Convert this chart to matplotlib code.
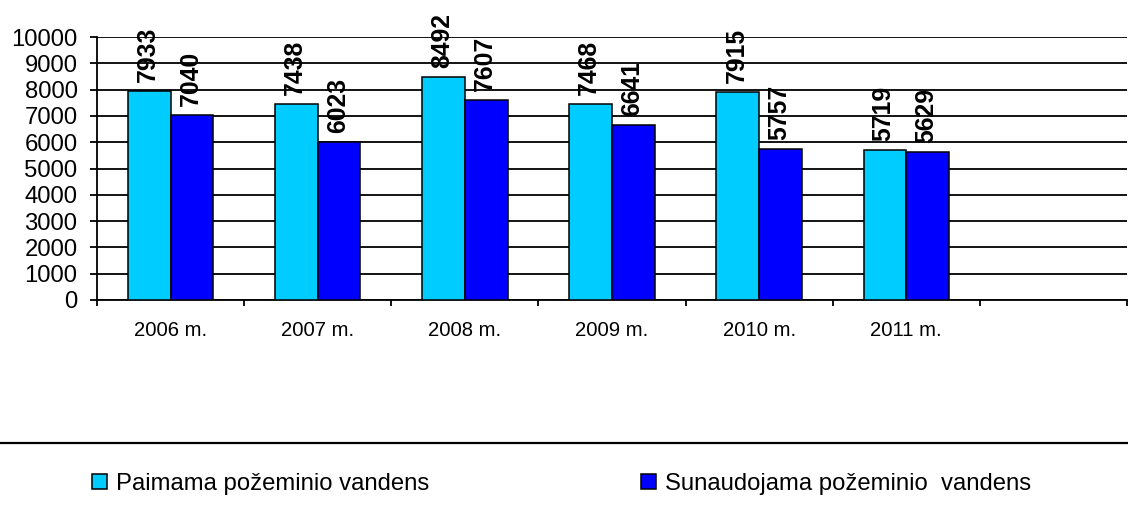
import matplotlib
matplotlib.use("Agg")
import matplotlib.pyplot as plt
import numpy as np
from matplotlib.lines import Line2D

plt.rcParams['font.family'] = ['Liberation Sans', 'DejaVu Sans']

years = ["2006 m.", "2007 m.", "2008 m.", "2009 m.", "2010 m.", "2011 m."]
paimama = [7933, 7438, 8492, 7468, 7915, 5719]
sunaudojama = [7040, 6023, 7607, 6641, 5757, 5629]
series_names = ["Paimama požeminio vandens", "Sunaudojama požeminio  vandens"]
n_slots = 7  # one empty slot on the right

W, H = 1128, 519
fig = plt.figure(figsize=(W / 100, H / 100), dpi=100)
ax = fig.add_axes([97 / W, (H - 300) / H, (1127 - 97) / W, (300 - 37) / H])

x = np.arange(len(years)) + 0.5
bw = 0.29
b1 = ax.bar(x - bw / 2, paimama, bw, color="#00CCFF", edgecolor="black", linewidth=1.1, zorder=3)
b2 = ax.bar(x + bw / 2, sunaudojama, bw, color="#0000FF", edgecolor="black", linewidth=1.1, zorder=3)

for bars in (b1, b2):
    for r in bars:
        ax.annotate(f"{int(r.get_height())}", (r.get_x() + r.get_width() / 2, r.get_height()),
                    xytext=(-1, 6.5), textcoords="offset points", rotation=90,
                    ha="center", va="bottom", fontsize=17.8, fontweight="bold", zorder=4)

ax.set_xlim(0, n_slots)
ax.set_ylim(0, 10000)
ax.set_yticks(np.arange(0, 10001, 1000))
ax.yaxis.grid(True, color="black", linewidth=1.3)
ax.set_axisbelow(True)
ax.tick_params(axis="y", direction="out", length=5, width=1.3, pad=9, labelsize=17.2)

ax.set_xticks(np.arange(0, n_slots + 1))
ax.set_xticklabels([])
ax.set_xticks(x, minor=True)
ax.set_xticklabels(years, minor=True, fontsize=14.6)
ax.tick_params(axis="x", which="major", direction="out", length=4.3, width=1.3)
ax.tick_params(axis="x", which="minor", length=0, pad=15)

for s in ("top", "right"):
    ax.spines[s].set_visible(False)
ax.spines["left"].set_linewidth(1.3)
ax.spines["bottom"].set_linewidth(1.3)

# line above the legend
fig.add_artist(Line2D([0, 1], [(H - 443) / H] * 2, color="black", linewidth=1.6,
                      transform=fig.transFigure))

legend_kw = dict(frameon=False, fontsize=17.2, handlelength=0.62, handleheight=0.62,
                 handletextpad=0.38, borderpad=0, borderaxespad=0, loc="center left")
fig.legend([b1], [series_names[0]], bbox_to_anchor=(92 / W, (H - 484) / H), **legend_kw)
fig.legend([b2], [series_names[1]], bbox_to_anchor=(641 / W, (H - 484) / H), **legend_kw)

fig.savefig("out.png", dpi=100)
